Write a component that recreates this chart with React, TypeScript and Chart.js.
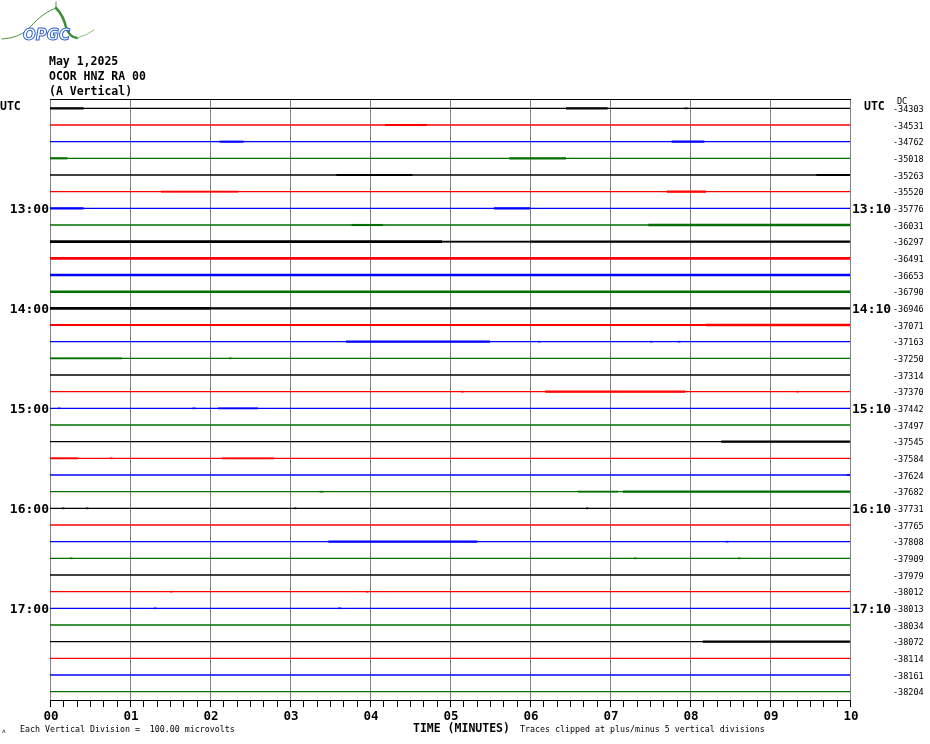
import React, { useEffect, useRef } from "react";
import { Chart, registerables } from "chart.js";

Chart.register(...registerables);

// ---------- data ----------
const titleLines = ["May 1,2025", "OCOR HNZ RA 00", "(A Vertical)"];

const dcLabels = [
  "-34303", "-34531", "-34762", "-35018", "-35263", "-35520",
  "-35776", "-36031", "-36297", "-36491", "-36653", "-36790",
  "-36946", "-37071", "-37163", "-37250", "-37314", "-37370",
  "-37442", "-37497", "-37545", "-37584", "-37624", "-37682",
  "-37731", "-37765", "-37808", "-37909", "-37979", "-38012",
  "-38013", "-38034", "-38072", "-38114", "-38161", "-38204",
];

const leftTimeRows = [6, 12, 18, 24, 30];
const leftTimeLabels = ["13:00", "14:00", "15:00", "16:00", "17:00"];
const rightTimeLabels = ["13:10", "14:10", "15:10", "16:10", "17:10"];

const minuteTicks = [0, 1, 2, 3, 4, 5, 6, 7, 8, 9, 10];
const minuteLabels = ["00", "01", "02", "03", "04", "05", "06", "07", "08", "09", "10"];
const subTicksPerMinute = 6;

const traceColors = ["#000000", "#ff0000", "#0000ff", "#006e00"];

// noise / activity windows per trace: [startMin, endMin, strength]
const noiseSegments: number[][][] = [
  [[0, 0.42, 2], [6.45, 6.97, 2], [7.93, 7.97, 1]],
  [[4.19, 4.71, 2]],
  [[2.12, 2.42, 2], [7.77, 8.18, 2]],
  [[0, 0.22, 2], [5.74, 6.45, 2]],
  [[3.58, 4.53, 2], [9.58, 10, 2]],
  [[1.39, 2.35, 1.5], [7.71, 8.2, 2]],
  [[0, 0.42, 2], [5.55, 6.0, 2]],
  [[3.77, 4.16, 2], [7.48, 10, 2.5]],
  [[0, 4.9, 3], [4.9, 6.0, 1.5], [6.0, 10, 2.5]],
  [[0, 10, 3]],
  [[0, 10, 3]],
  [[0, 10, 2.8]],
  [[0, 2.0, 3], [2.0, 6.0, 2], [6.0, 10, 2.5]],
  [[0, 6.4, 2], [6.4, 8.2, 1.5], [8.2, 10, 3]],
  [[3.7, 5.5, 2.5], [6.1, 6.13, 1], [7.5, 7.53, 1], [7.85, 7.88, 1]],
  [[0, 0.9, 1.5], [2.24, 2.27, 1]],
  [],
  [[6.19, 7.94, 2], [5.14, 5.17, 1], [9.33, 9.36, 1]],
  [[0.1, 0.13, 1], [1.78, 1.82, 1], [2.1, 2.6, 1]],
  [],
  [[8.39, 10, 2.5]],
  [[0, 0.35, 1.5], [0.75, 0.78, 1], [2.15, 2.8, 1.5]],
  [[9.96, 10, 1]],
  [[3.37, 3.42, 1], [6.6, 7.1, 1], [7.16, 8.0, 2], [8.0, 10, 2.5]],
  [[0.15, 0.18, 1], [0.45, 0.48, 1], [3.05, 3.08, 1], [6.7, 6.73, 1]],
  [],
  [[3.48, 5.34, 2.5], [8.45, 8.48, 1]],
  [[0.25, 0.28, 1], [7.3, 7.33, 1], [8.6, 8.63, 1]],
  [],
  [[1.5, 1.53, 1], [3.95, 3.98, 1]],
  [[1.3, 1.33, 1], [3.6, 3.64, 1]],
  [],
  [[8.16, 10, 2.5]],
  [],
  [],
  [],
];

const bottomNote = "Each Vertical Division =  100.00 microvolts";
const axisTitle = "TIME (MINUTES)";
const clipNote = "Traces clipped at plus/minus 5 vertical divisions";

// ---------- component ----------
const MONO = '"DejaVu Sans Mono", "Liberation Mono", monospace';

export default function App() {
  const ref = useRef<HTMLCanvasElement | null>(null);

  useEffect(() => {
    if (!ref.current) return;
    const rows = dcLabels.length;

    const datasets: any[] = [];
    for (let r = 0; r < rows; r++) {
      const color = traceColors[r % traceColors.length];
      datasets.push({
        data: [
          { x: 0, y: r },
          { x: 10, y: r },
        ],
        borderColor: color,
        borderWidth: 1.3,
        pointRadius: 0,
      });
      for (const seg of noiseSegments[r] || []) {
        datasets.push({
          data: [
            { x: seg[0], y: r },
            { x: seg[1], y: r },
          ],
          borderColor: color,
          borderWidth: 1.1 + seg[2] * 0.5,
          borderCapStyle: "butt",
          pointRadius: 0,
        });
      }
    }

    const decor = {
      id: "decor",
      beforeDraw(chart: any) {
        const ctx = chart.ctx;
        ctx.save();
        ctx.fillStyle = "#ffffff";
        ctx.fillRect(0, 0, chart.width, chart.height);
        ctx.restore();
      },
      beforeDatasetsDraw(chart: any) {
        const ctx = chart.ctx;
        const xs = chart.scales.x;
        const a = chart.chartArea;
        ctx.save();
        // vertical minute grid
        ctx.fillStyle = "#808080";
        for (const m of minuteTicks) {
          const px = Math.round(xs.getPixelForValue(m));
          ctx.fillRect(px, Math.round(a.top) - 1, 1, Math.round(a.bottom) - Math.round(a.top) + 1);
        }
        // top border
        ctx.fillStyle = "#000000";
        ctx.fillRect(Math.round(a.left), Math.round(a.top) - 1, Math.round(a.right - a.left) + 1, 1);
        ctx.restore();
      },
      afterDraw(chart: any) {
        const ctx = chart.ctx;
        const xs = chart.scales.x;
        const ys = chart.scales.y;
        const a = chart.chartArea;
        ctx.save();
        // bottom axis line and ticks
        ctx.fillStyle = "#000000";
        const bottom = Math.round(a.bottom);
        ctx.fillRect(Math.round(a.left), bottom, Math.round(a.right - a.left) + 1, 1);
        for (let i = 0; i <= 10 * subTicksPerMinute; i++) {
          const px = Math.round(xs.getPixelForValue(i / subTicksPerMinute));
          ctx.fillRect(px, bottom, 1, 7);
        }
        // minute labels
        ctx.font = `bold 12.5px ${MONO}`;
        ctx.textAlign = "center";
        ctx.textBaseline = "middle";
        minuteTicks.forEach((m, i) => {
          ctx.fillText(minuteLabels[i], xs.getPixelForValue(m) + 1, bottom + 17);
        });

        // title
        ctx.font = `bold 11.5px ${MONO}`;
        ctx.textAlign = "left";
        titleLines.forEach((t, i) => {
          ctx.fillText(t, 49, 62 + i * 15);
        });

        // UTC labels
        ctx.font = `bold 11.5px ${MONO}`;
        ctx.fillText("UTC", 0, ys.getPixelForValue(0) - 1);
        ctx.fillText("UTC", 864, ys.getPixelForValue(0) - 1);

        // hour labels
        ctx.font = `bold 13px ${MONO}`;
        leftTimeRows.forEach((r, i) => {
          const py = ys.getPixelForValue(r);
          ctx.textAlign = "right";
          ctx.fillText(leftTimeLabels[i], 49, py + 1);
          ctx.textAlign = "left";
          ctx.fillText(rightTimeLabels[i], 852, py + 1);
        });

        // DC labels
        ctx.font = `8.5px ${MONO}`;
        ctx.textAlign = "left";
        dcLabels.forEach((t, r) => {
          ctx.fillText(t, 893, ys.getPixelForValue(r) + 1.5);
        });
        ctx.fillText("DC", 897, 102);

        // footer
        ctx.font = `8.3px ${MONO}`;
        ctx.fillText(bottomNote, 20, 730);
        ctx.fillText(clipNote, 520, 730);
        ctx.font = `bold 11.5px ${MONO}`;
        ctx.fillText(axisTitle, 413, 729);
        ctx.font = `6px ${MONO}`;
        ctx.fillText("ʌ", 2, 731);

        // logo
        ctx.lineCap = "round";
        ctx.strokeStyle = "#4a9a3a";
        ctx.lineWidth = 1;
        ctx.beginPath();
        ctx.moveTo(2, 39);
        ctx.lineTo(10, 38);
        ctx.quadraticCurveTo(24, 35, 32, 25);
        ctx.quadraticCurveTo(44, 12, 56, 8);
        ctx.stroke();
        ctx.beginPath();
        ctx.moveTo(56, 2);
        ctx.lineTo(56, 9);
        ctx.stroke();
        ctx.strokeStyle = "#3d8f35";
        ctx.lineWidth = 2.5;
        ctx.beginPath();
        ctx.moveTo(56, 8);
        ctx.quadraticCurveTo(63, 15, 66, 27);
        ctx.quadraticCurveTo(69, 37, 77, 38);
        ctx.stroke();
        ctx.strokeStyle = "#8cc07a";
        ctx.lineWidth = 1;
        ctx.beginPath();
        ctx.moveTo(77, 38);
        ctx.quadraticCurveTo(86, 36, 94, 30);
        ctx.stroke();
        ctx.font = `italic bold 15px "DejaVu Sans", sans-serif`;
        ctx.textAlign = "left";
        ctx.fillStyle = "#ffffff";
        ctx.strokeStyle = "#2f5fd0";
        ctx.lineWidth = 1;
        ctx.fillText("OPGC", 23, 36);
        ctx.strokeText("OPGC", 23, 36);

        ctx.restore();
      },
    };

    const chart = new Chart(ref.current, {
      type: "line",
      data: { datasets },
      options: {
        animation: false,
        responsive: false,
        devicePixelRatio: 1,
        parsing: true,
        layout: { padding: { left: 50, top: 100, right: 80, bottom: 44 } },
        scales: {
          x: { type: "linear", min: 0, max: 10, display: false },
          y: { type: "linear", min: -0.5, max: 35.5, reverse: true, display: false },
        },
        plugins: {
          legend: { display: false },
          tooltip: { enabled: false },
        },
        elements: { line: { tension: 0 } },
      },
      plugins: [decor],
    } as any);

    return () => chart.destroy();
  }, []);

  return (
    <div style={{ position: "absolute", left: 0, top: 0, width: 930, height: 744, background: "#fff" }}>
      <canvas ref={ref} width={930} height={744} style={{ width: 930, height: 744, display: "block" }} />
    </div>
  );
}
